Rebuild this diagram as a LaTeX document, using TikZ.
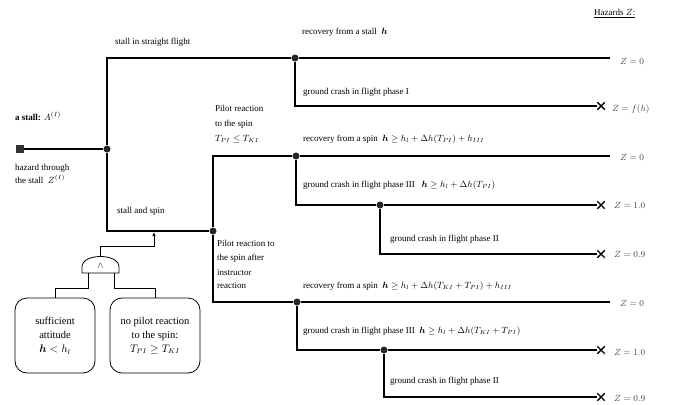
\documentclass[tikz,border=0pt]{standalone}
\usepackage{amsmath}
\usepackage{fontspec}
\setmainfont{Liberation Serif}
\usetikzlibrary{shapes.misc,arrows.meta}
\begin{document}
\begin{tikzpicture}[x=1pt,y=-1pt,
  every node/.style={font=\fontsize{9}{11}\selectfont},
  lbl/.style={anchor=base west,inner sep=0pt},
  dotn/.style={circle,fill=black!85,inner sep=0pt,minimum size=7pt},
  xmark/.style={cross out,draw,line width=1.4pt,minimum size=6pt,inner sep=0pt},
  wire/.style={line width=1.1pt},
  thinwire/.style={line width=0.8pt},
  zl/.style={anchor=base west,inner sep=0pt,text=black!75},
  boxn/.style={draw,line width=0.8pt,rounded corners=12pt,align=center,inner sep=0pt,font=\fontsize{10.5}{14}\selectfont}
]
\useasboundingbox (0,0) rectangle (676,404);

% start square and junction dots
\node[fill=black!80,minimum size=8pt,inner sep=0pt] (sq) at (20,149) {};
\node[dotn] (d0) at (107,149) {};
\node[dotn] (d1) at (295,58) {};
\node[dotn] (d2) at (213,231) {};
\node[dotn] (d3) at (296,156) {};
\node[dotn] (d4) at (380,205) {};
\node[dotn] (d5) at (297,302) {};
\node[dotn] (d6) at (384,350) {};

% ends
\coordinate (e1) at (610,58);
\coordinate (e2) at (610,156);
\coordinate (e3) at (610,302);
\node[xmark] (x1) at (601,106) {};
\node[xmark] (x2) at (601,205) {};
\node[xmark] (x3) at (601,254) {};
\node[xmark] (x4) at (601,350) {};
\node[xmark] (x5) at (601,397) {};

% tree connectors
\draw[wire] (sq) -- (d0);
\draw[wire] (d0) |- (d1);
\draw[wire] (d1) -- (e1);
\draw[wire] (d1) |- (x1);
\draw[wire] (d0) |- (d2);
\draw[wire] (d2) |- (d3);
\draw[wire] (d3) -- (e2);
\draw[wire] (d3) |- (d4);
\draw[wire] (d4) -- (x2);
\draw[wire] (d4) |- (x3);
\draw[wire] (d2) |- (d5);
\draw[wire] (d5) -- (e3);
\draw[wire] (d5) |- (d6);
\draw[wire] (d6) -- (x4);
\draw[wire] (d6) |- (x5);

% AND gate
\draw[thinwire] (82,273) -- (82,267) .. controls (82,253) and (119,253) .. (119,267) -- (119,273) -- cycle;
\node[inner sep=0pt] (gate) at (100.5,266) {$\wedge$};
\coordinate (gtop) at (100.5,256.5);
\coordinate (gin) at (154,232);
\coordinate (gbl) at (88,273);
\coordinate (gbr) at (114,273);
\draw[thinwire,-{Latex[length=4pt,width=3.5pt]}] (gtop) -- ++(0,-10) -| (gin);

\node[boxn,minimum width=80pt,minimum height=75pt] (box1) at (55,335.5) {sufficient\\attitude\\$\boldsymbol{h}<h_l$};
\node[boxn,minimum width=90pt,minimum height=75pt] (box2) at (155,335.5) {no pilot reaction\\to the spin:\\$T_{PI}\geq T_{KI}$};
\draw[thinwire] (gbl) -- ++(0,15) -| (box1);
\draw[thinwire] (gbr) -- ++(0,15) -| (box2);

% labels
\node[lbl] (haz) at (594,16) {\underline{Hazards $Z$:}};
\node[lbl] (la) at (15,120) {\textbf{a stall:} $A^{(I)}$};
\node[lbl] (lb1) at (15,170) {hazard through};
\node[lbl] (lb2) at (15,183) {the stall\ \ $Z^{(I)}$};
\node[lbl] (ls1) at (115,45) {stall in straight flight};
\node[lbl] (ls2) at (117,213) {stall and spin};

\node[lbl] (r1) at (302,35) {recovery from a stall\ \ $\boldsymbol{h}$};
\node[lbl] (g1) at (303,94) {ground crash in flight phase I};

\node[lbl] (p1a) at (215,111) {Pilot reaction};
\node[lbl] (p1b) at (215,126) {to the spin};
\node[lbl] (p1c) at (215,141) {$T_{PI}\leq T_{KI}$};
\node[lbl] (r2) at (303,141) {recovery from a spin\ \ $\boldsymbol{h}\geq h_l+\Delta h(T_{PI})+h_{III}$};
\node[lbl] (g2) at (303,187) {ground crash in flight phase III\ \ \ $\boldsymbol{h}\geq h_l+\Delta h(T_{PI})$};
\node[lbl] (g3) at (390,241) {ground crash in flight phase II};

\node[lbl] (p2a) at (217,246) {Pilot reaction to};
\node[lbl] (p2b) at (217,260) {the spin after};
\node[lbl] (p2c) at (217,275) {instructor};
\node[lbl] (p2d) at (217,288) {reaction};
\node[lbl] (r3) at (303,288) {recovery from a spin\ \ $\boldsymbol{h}\geq h_l+\Delta h(T_{KI}+T_{PI})+h_{III}$};
\node[lbl] (g4) at (303,333) {ground crash in flight phase III\ \ $\boldsymbol{h}\geq h_l+\Delta h(T_{KI}+T_{PI})$};
\node[lbl] (g5) at (390,383) {ground crash in flight phase II};

% hazard values
\node[zl] (z1) at (620,64) {$Z=0$};
\node[zl] (z2) at (612,111) {$Z=f(h)$};
\node[zl] (z3) at (620,160) {$Z=0$};
\node[zl] (z4) at (614,208) {$Z=1.0$};
\node[zl] (z5) at (614,257) {$Z=0.9$};
\node[zl] (z6) at (620,306) {$Z=0$};
\node[zl] (z7) at (614,355) {$Z=1.0$};
\node[zl] (z8) at (614,401) {$Z=0.9$};
\end{tikzpicture}
\end{document}
